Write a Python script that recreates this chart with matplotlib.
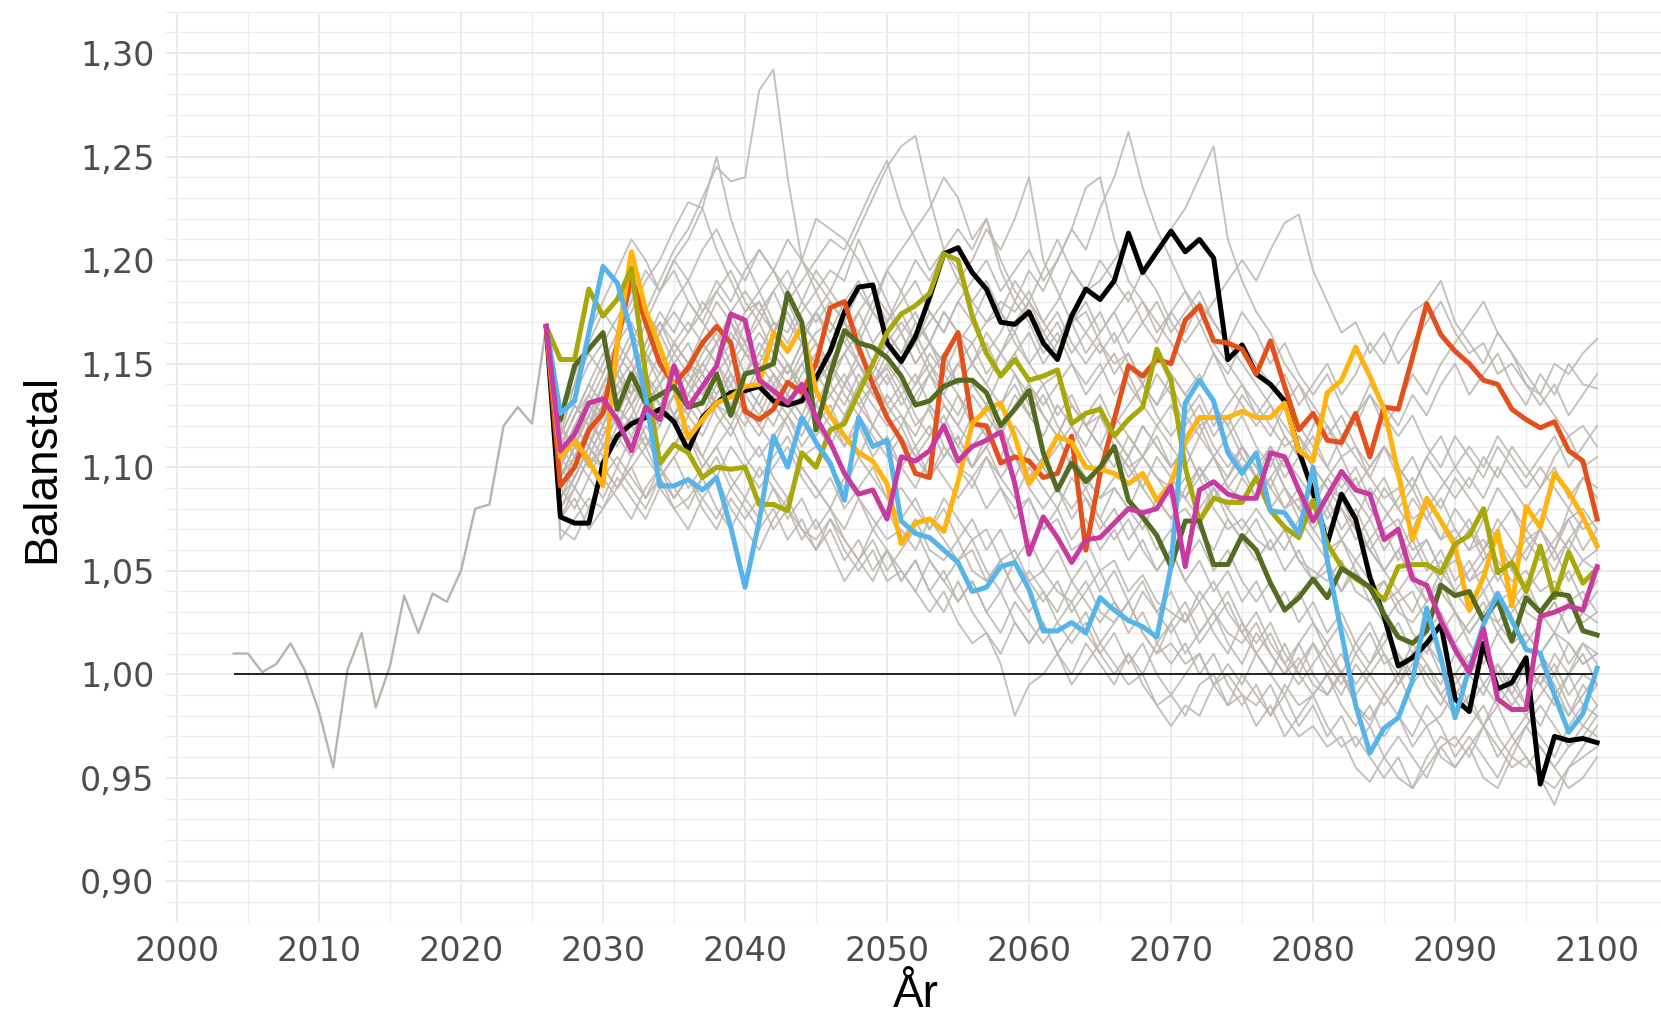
import matplotlib
matplotlib.use("Agg")
import matplotlib.pyplot as plt
import numpy as np

# historical outcome
hist_years = list(range(2004, 2027))
hist_vals = [1.010, 1.010, 1.001, 1.005, 1.015, 1.002, 0.982, 0.955, 1.002, 1.020,
             0.984, 1.004, 1.038, 1.020, 1.039, 1.035, 1.050, 1.080, 1.082, 1.120,
             1.129, 1.121, 1.168]

# projection years
proj_years = list(range(2026, 2101))

# highlighted simulations (balanstal)
sim_black = [1.168, 1.076, 1.073, 1.073, 1.102, 1.115, 1.121, 1.124, 1.128, 1.122,
             1.108, 1.124, 1.131, 1.136, 1.137, 1.139, 1.132, 1.130, 1.132, 1.143,
             1.156, 1.175, 1.187, 1.188, 1.160, 1.151, 1.163, 1.182, 1.203, 1.206,
             1.194, 1.186, 1.170, 1.169, 1.175, 1.160, 1.152, 1.173, 1.186, 1.181,
             1.190, 1.213, 1.194, 1.204, 1.214, 1.204, 1.210, 1.201, 1.152, 1.159,
             1.145, 1.140, 1.132, 1.108, 1.088, 1.063, 1.087, 1.075, 1.047, 1.028,
             1.004, 1.008, 1.015, 1.024, 0.988, 0.982, 1.015, 0.993, 0.996, 1.008,
             0.947, 0.970, 0.968, 0.969, 0.967]
sim_red = [1.168, 1.091, 1.100, 1.118, 1.126, 1.160, 1.192, 1.170, 1.150, 1.140,
           1.148, 1.160, 1.168, 1.160, 1.127, 1.123, 1.128, 1.141, 1.136, 1.150,
           1.177, 1.180, 1.158, 1.140, 1.124, 1.113, 1.097, 1.095, 1.153, 1.165,
           1.121, 1.120, 1.102, 1.105, 1.103, 1.095, 1.097, 1.115, 1.060, 1.097,
           1.123, 1.149, 1.144, 1.152, 1.150, 1.171, 1.178, 1.161, 1.160, 1.157,
           1.145, 1.161, 1.139, 1.118, 1.126, 1.113, 1.112, 1.126, 1.105, 1.129,
           1.128, 1.153, 1.179, 1.164, 1.156, 1.150, 1.142, 1.140, 1.128, 1.123,
           1.119, 1.122, 1.108, 1.103, 1.075]
sim_yellow = [1.168, 1.105, 1.113, 1.103, 1.091, 1.160, 1.204, 1.176, 1.158, 1.139,
              1.114, 1.123, 1.131, 1.134, 1.139, 1.140, 1.165, 1.156, 1.168, 1.137,
              1.125, 1.115, 1.107, 1.103, 1.092, 1.063, 1.073, 1.075, 1.069, 1.093,
              1.121, 1.128, 1.131, 1.115, 1.092, 1.102, 1.115, 1.112, 1.100, 1.099,
              1.097, 1.092, 1.097, 1.084, 1.092, 1.113, 1.124, 1.124, 1.124, 1.127,
              1.124, 1.124, 1.131, 1.108, 1.103, 1.136, 1.142, 1.158, 1.144, 1.128,
              1.097, 1.065, 1.085, 1.074, 1.062, 1.031, 1.047, 1.069, 1.033, 1.081,
              1.071, 1.097, 1.088, 1.076, 1.062]
sim_olive = [1.168, 1.152, 1.152, 1.186, 1.173, 1.181, 1.196, 1.145, 1.102, 1.111,
             1.107, 1.095, 1.100, 1.099, 1.100, 1.082, 1.082, 1.079, 1.107, 1.100,
             1.118, 1.121, 1.136, 1.150, 1.165, 1.174, 1.178, 1.184, 1.203, 1.200,
             1.173, 1.155, 1.144, 1.152, 1.142, 1.144, 1.147, 1.121, 1.126, 1.128,
             1.115, 1.123, 1.129, 1.157, 1.142, 1.100, 1.074, 1.085, 1.083, 1.083,
             1.095, 1.079, 1.071, 1.066, 1.084, 1.063, 1.052, 1.046, 1.042, 1.036,
             1.052, 1.053, 1.053, 1.049, 1.063, 1.067, 1.080, 1.049, 1.054, 1.040,
             1.062, 1.037, 1.059, 1.044, 1.051]
sim_green = [1.168, 1.123, 1.149, 1.157, 1.165, 1.128, 1.145, 1.131, 1.135, 1.139,
             1.129, 1.131, 1.145, 1.125, 1.145, 1.147, 1.150, 1.184, 1.170, 1.118,
             1.145, 1.166, 1.160, 1.158, 1.153, 1.144, 1.130, 1.132, 1.139, 1.142,
             1.142, 1.136, 1.120, 1.128, 1.137, 1.107, 1.089, 1.102, 1.093, 1.100,
             1.110, 1.084, 1.076, 1.067, 1.052, 1.074, 1.074, 1.053, 1.053, 1.067,
             1.060, 1.044, 1.031, 1.037, 1.046, 1.037, 1.051, 1.047, 1.042, 1.029,
             1.018, 1.015, 1.021, 1.043, 1.038, 1.040, 1.026, 1.036, 1.016, 1.037,
             1.030, 1.039, 1.038, 1.021, 1.019]
sim_blue = [1.168, 1.126, 1.132, 1.165, 1.197, 1.189, 1.165, 1.134, 1.091, 1.091,
            1.094, 1.089, 1.095, 1.071, 1.042, 1.074, 1.115, 1.100, 1.124, 1.112,
            1.102, 1.084, 1.124, 1.110, 1.113, 1.074, 1.068, 1.066, 1.060, 1.054,
            1.040, 1.042, 1.052, 1.054, 1.041, 1.021, 1.021, 1.025, 1.020, 1.037,
            1.031, 1.026, 1.023, 1.018, 1.052, 1.131, 1.142, 1.132, 1.107, 1.097,
            1.107, 1.079, 1.078, 1.068, 1.100, 1.055, 1.020, 0.985, 0.962, 0.974,
            0.979, 0.997, 1.032, 1.008, 0.979, 1.003, 1.024, 1.039, 1.026, 1.012,
            1.010, 0.990, 0.972, 0.981, 1.003]
sim_magenta = [1.168, 1.108, 1.116, 1.131, 1.133, 1.123, 1.108, 1.129, 1.123, 1.149,
               1.129, 1.139, 1.149, 1.174, 1.171, 1.142, 1.137, 1.131, 1.140, 1.124,
               1.112, 1.097, 1.087, 1.089, 1.075, 1.105, 1.103, 1.108, 1.120, 1.103,
               1.110, 1.113, 1.117, 1.092, 1.058, 1.076, 1.066, 1.054, 1.065, 1.066,
               1.073, 1.080, 1.078, 1.080, 1.091, 1.052, 1.089, 1.093, 1.087, 1.085,
               1.085, 1.107, 1.105, 1.089, 1.074, 1.086, 1.098, 1.089, 1.087, 1.065,
               1.070, 1.046, 1.043, 1.026, 1.012, 1.001, 1.022, 0.988, 0.983, 0.983,
               1.028, 1.030, 1.033, 1.031, 1.052]

highlight = [sim_black, sim_red, sim_yellow, sim_olive, sim_green, sim_blue, sim_magenta]
highlight_colors = ['#000000', '#e4501c', '#ffb30f', '#a9a80a', '#546b22', '#56b4e9', '#c83aa0']

# other simulations, in thousandths
grey_runs = [
    [1168, 1120, 1135, 1150, 1160, 1172, 1185, 1175, 1190, 1205, 1215, 1230, 1245, 1238, 1240,
     1282, 1292, 1240, 1200, 1185, 1170, 1160, 1150, 1140, 1148, 1135, 1120, 1128, 1110, 1100,
     1095, 1105, 1090, 1080, 1085, 1070, 1075, 1060, 1065, 1050, 1055, 1040, 1048, 1035, 1030,
     1025, 1040, 1030, 1020, 1015, 1025, 1010, 1000, 1008, 995, 990, 1002, 985, 978, 990,
     1000, 985, 975, 980, 992, 985, 975, 990, 1000, 985, 975, 990, 1000, 985, 995],
    [1168, 1095, 1110, 1125, 1140, 1150, 1135, 1160, 1170, 1155, 1165, 1180, 1170, 1160, 1175,
     1185, 1170, 1165, 1180, 1195, 1185, 1200, 1215, 1230, 1245, 1255, 1260, 1230, 1205, 1195,
     1180, 1170, 1175, 1160, 1150, 1140, 1145, 1130, 1120, 1125, 1110, 1100, 1105, 1095, 1090,
     1085, 1095, 1080, 1070, 1075, 1065, 1060, 1070, 1055, 1050, 1045, 1055, 1040, 1035, 1045,
     1030, 1025, 1035, 1040, 1030, 1020, 1030, 1025, 1015, 1020, 1010, 1020, 1015, 1005, 1010],
    [1168, 1080, 1090, 1105, 1100, 1115, 1125, 1110, 1120, 1135, 1125, 1140, 1150, 1135, 1145,
     1160, 1150, 1140, 1155, 1165, 1170, 1160, 1175, 1185, 1170, 1180, 1190, 1175, 1165, 1180,
     1190, 1200, 1185, 1195, 1205, 1190, 1200, 1215, 1205, 1225, 1240, 1262, 1235, 1215, 1200,
     1185, 1175, 1160, 1150, 1140, 1130, 1120, 1110, 1115, 1100, 1090, 1085, 1095, 1080, 1070,
     1075, 1060, 1065, 1050, 1055, 1045, 1050, 1035, 1040, 1030, 1025, 1035, 1020, 1030, 1025],
    [1168, 1100, 1115, 1130, 1120, 1140, 1150, 1135, 1145, 1160, 1150, 1145, 1160, 1170, 1155,
     1150, 1165, 1175, 1160, 1150, 1155, 1165, 1150, 1140, 1155, 1165, 1150, 1160, 1175, 1165,
     1160, 1170, 1180, 1175, 1185, 1170, 1180, 1195, 1185, 1190, 1200, 1210, 1195, 1205, 1215,
     1225, 1240, 1255, 1210, 1190, 1175, 1165, 1150, 1140, 1130, 1120, 1105, 1110, 1095, 1085,
     1090, 1075, 1080, 1065, 1070, 1060, 1065, 1055, 1045, 1050, 1040, 1045, 1035, 1040, 1030],
    [1168, 1110, 1125, 1140, 1155, 1145, 1160, 1175, 1165, 1180, 1190, 1175, 1185, 1195, 1180,
     1170, 1185, 1195, 1180, 1170, 1180, 1170, 1160, 1175, 1165, 1155, 1165, 1150, 1140, 1150,
     1160, 1145, 1155, 1165, 1150, 1160, 1170, 1155, 1165, 1175, 1160, 1170, 1180, 1165, 1175,
     1185, 1170, 1180, 1190, 1200, 1190, 1205, 1218, 1222, 1195, 1180, 1165, 1170, 1155, 1165,
     1150, 1160, 1170, 1180, 1165, 1155, 1160, 1145, 1150, 1140, 1135, 1150, 1145, 1155, 1162],
    [1168, 1065, 1075, 1085, 1080, 1090, 1100, 1085, 1095, 1080, 1085, 1095, 1080, 1070, 1085,
     1075, 1090, 1080, 1070, 1065, 1075, 1060, 1050, 1060, 1045, 1050, 1040, 1030, 1040, 1025,
     1015, 1020, 1005, 980, 995, 1000, 1010, 995, 1005, 1015, 1005, 995, 1000, 985, 990,
     980, 995, 1000, 985, 990, 975, 985, 970, 980, 990, 975, 965, 970, 960, 950,
     960, 945, 955, 965, 970, 960, 975, 965, 955, 960, 950, 945, 955, 960, 965],
    [1168, 1120, 1110, 1125, 1140, 1130, 1145, 1155, 1140, 1150, 1160, 1145, 1135, 1150, 1160,
     1145, 1135, 1150, 1140, 1130, 1145, 1155, 1140, 1150, 1165, 1175, 1160, 1170, 1180, 1190,
     1200, 1215, 1205, 1220, 1240, 1200, 1185, 1170, 1175, 1160, 1150, 1155, 1140, 1130, 1145,
     1135, 1120, 1125, 1110, 1100, 1105, 1090, 1080, 1085, 1070, 1060, 1065, 1050, 1040, 1045,
     1035, 1040, 1025, 1020, 1030, 1015, 1005, 1020, 1010, 1000, 995, 1005, 990, 1000, 995],
    [1168, 1085, 1100, 1115, 1105, 1120, 1130, 1115, 1100, 1110, 1125, 1115, 1130, 1140, 1125,
     1115, 1130, 1120, 1105, 1110, 1100, 1090, 1105, 1095, 1085, 1090, 1080, 1070, 1085, 1075,
     1065, 1070, 1055, 1060, 1045, 1050, 1040, 1035, 1045, 1030, 1025, 1035, 1020, 1010, 1015,
     1005, 1010, 995, 1000, 990, 985, 995, 980, 970, 975, 965, 970, 955, 948, 960,
     950, 945, 960, 970, 965, 975, 985, 970, 960, 975, 985, 975, 965, 970, 980],
    [1168, 1105, 1120, 1135, 1150, 1165, 1175, 1190, 1200, 1215, 1228, 1225, 1205, 1190, 1175,
     1180, 1165, 1155, 1170, 1160, 1150, 1140, 1155, 1145, 1130, 1140, 1125, 1115, 1130, 1120,
     1110, 1120, 1105, 1095, 1110, 1100, 1090, 1105, 1095, 1085, 1090, 1080, 1095, 1085, 1075,
     1080, 1070, 1060, 1075, 1065, 1055, 1065, 1050, 1060, 1045, 1050, 1040, 1055, 1045, 1035,
     1040, 1030, 1045, 1055, 1040, 1050, 1060, 1045, 1055, 1065, 1070, 1060, 1075, 1080, 1070],
    [1168, 1095, 1110, 1130, 1145, 1160, 1150, 1170, 1185, 1200, 1210, 1225, 1250, 1220, 1200,
     1185, 1195, 1180, 1165, 1175, 1160, 1170, 1155, 1145, 1160, 1150, 1140, 1150, 1135, 1125,
     1140, 1130, 1120, 1135, 1125, 1115, 1130, 1120, 1110, 1125, 1115, 1105, 1120, 1110, 1100,
     1110, 1095, 1105, 1090, 1100, 1085, 1095, 1080, 1090, 1075, 1085, 1070, 1080, 1065, 1075,
     1085, 1095, 1080, 1090, 1100, 1110, 1100, 1115, 1105, 1095, 1105, 1115, 1100, 1110, 1120],
    [1168, 1090, 1080, 1095, 1110, 1100, 1115, 1105, 1095, 1105, 1115, 1100, 1110, 1120, 1105,
     1095, 1105, 1115, 1100, 1090, 1080, 1095, 1085, 1070, 1080, 1065, 1075, 1060, 1055, 1065,
     1050, 1045, 1055, 1040, 1030, 1040, 1025, 1015, 1025, 1010, 1000, 1010, 995, 985, 975,
     985, 980, 995, 1005, 995, 1010, 1000, 990, 1005, 1015, 1000, 990, 1005, 995, 985,
     995, 1010, 1000, 990, 1000, 985, 995, 1005, 990, 980, 990, 1000, 985, 975, 985],
    [1168, 1115, 1130, 1120, 1135, 1145, 1130, 1140, 1155, 1145, 1135, 1150, 1160, 1145, 1135,
     1150, 1140, 1130, 1145, 1155, 1140, 1130, 1145, 1135, 1125, 1135, 1145, 1130, 1120, 1135,
     1125, 1115, 1130, 1140, 1125, 1135, 1120, 1110, 1125, 1135, 1120, 1130, 1140, 1125, 1115,
     1125, 1135, 1120, 1130, 1140, 1125, 1135, 1145, 1130, 1140, 1150, 1135, 1145, 1160, 1150,
     1165, 1175, 1180, 1190, 1170, 1160, 1150, 1165, 1155, 1140, 1130, 1140, 1125, 1135, 1145],
    [1168, 1100, 1090, 1105, 1120, 1110, 1125, 1140, 1130, 1120, 1135, 1145, 1130, 1125, 1140,
     1130, 1120, 1135, 1125, 1115, 1125, 1110, 1120, 1105, 1115, 1100, 1090, 1105, 1095, 1085,
     1095, 1080, 1090, 1075, 1085, 1070, 1080, 1065, 1075, 1060, 1070, 1055, 1065, 1050, 1060,
     1045, 1055, 1040, 1050, 1035, 1045, 1030, 1040, 1025, 1035, 1020, 1030, 1015, 1005, 1020,
     1010, 995, 1005, 990, 980, 990, 975, 985, 970, 960, 950, 937, 955, 965, 975],
    [1168, 1110, 1100, 1120, 1135, 1150, 1165, 1155, 1170, 1160, 1150, 1165, 1180, 1170, 1160,
     1175, 1185, 1170, 1160, 1175, 1185, 1175, 1165, 1180, 1195, 1185, 1200, 1190, 1205, 1215,
     1205, 1220, 1200, 1185, 1175, 1165, 1175, 1160, 1150, 1160, 1145, 1155, 1140, 1130, 1140,
     1125, 1115, 1130, 1120, 1105, 1095, 1105, 1090, 1080, 1090, 1075, 1085, 1070, 1060, 1070,
     1055, 1065, 1050, 1060, 1045, 1055, 1040, 1050, 1035, 1045, 1030, 1040, 1050, 1035, 1045],
    [1168, 1070, 1065, 1080, 1095, 1085, 1075, 1090, 1100, 1085, 1095, 1080, 1070, 1085, 1075,
     1085, 1070, 1080, 1065, 1075, 1060, 1045, 1055, 1065, 1050, 1060, 1070, 1055, 1045, 1055,
     1065, 1050, 1040, 1055, 1045, 1035, 1045, 1030, 1040, 1050, 1035, 1025, 1040, 1030, 1020,
     1030, 1015, 1025, 1035, 1020, 1010, 1020, 1005, 995, 1005, 1015, 1000, 990, 1000, 1010,
     995, 1005, 1015, 1000, 990, 1000, 1010, 995, 985, 995, 1005, 995, 980, 990, 1000],
    [1168, 1105, 1095, 1110, 1100, 1115, 1105, 1120, 1110, 1125, 1115, 1105, 1120, 1130, 1115,
     1105, 1115, 1125, 1110, 1120, 1130, 1115, 1105, 1120, 1110, 1100, 1110, 1095, 1105, 1115,
     1100, 1110, 1120, 1105, 1095, 1105, 1115, 1100, 1090, 1100, 1110, 1095, 1105, 1115, 1100,
     1110, 1120, 1105, 1115, 1125, 1110, 1100, 1115, 1105, 1120, 1130, 1115, 1125, 1140, 1130,
     1120, 1135, 1125, 1140, 1150, 1135, 1145, 1155, 1140, 1130, 1145, 1135, 1150, 1140, 1138],
    [1168, 1125, 1140, 1155, 1145, 1160, 1170, 1155, 1145, 1160, 1170, 1160, 1150, 1165, 1155,
     1145, 1160, 1150, 1135, 1145, 1135, 1125, 1140, 1130, 1120, 1125, 1110, 1120, 1105, 1115,
     1100, 1110, 1095, 1105, 1090, 1080, 1090, 1075, 1085, 1070, 1080, 1065, 1075, 1060, 1070,
     1055, 1065, 1050, 1060, 1045, 1035, 1045, 1030, 1040, 1025, 1015, 1025, 1010, 1020, 1005,
     1010, 1000, 1015, 1005, 995, 1005, 1015, 1000, 1010, 1020, 1010, 1000, 1015, 1005, 1010],
    [1168, 1115, 1140, 1165, 1180, 1195, 1210, 1200, 1185, 1195, 1180, 1170, 1185, 1175, 1160,
     1170, 1155, 1145, 1160, 1150, 1140, 1155, 1165, 1150, 1140, 1150, 1160, 1145, 1135, 1150,
     1140, 1130, 1145, 1155, 1140, 1130, 1140, 1150, 1135, 1145, 1155, 1140, 1130, 1145, 1135,
     1120, 1130, 1115, 1125, 1110, 1100, 1110, 1095, 1105, 1090, 1080, 1095, 1085, 1075, 1090,
     1080, 1070, 1085, 1075, 1065, 1075, 1060, 1070, 1080, 1065, 1055, 1065, 1075, 1060, 1070],
    [1168, 1090, 1105, 1095, 1085, 1100, 1090, 1080, 1095, 1105, 1090, 1100, 1110, 1095, 1085,
     1100, 1090, 1075, 1085, 1070, 1080, 1065, 1055, 1070, 1060, 1045, 1055, 1040, 1030, 1045,
     1030, 1020, 1010, 1025, 1015, 1025, 1010, 1020, 1030, 1015, 1025, 1035, 1020, 1010, 1025,
     1035, 1020, 1030, 1040, 1025, 1015, 1025, 1010, 1000, 1015, 1005, 995, 1010, 1000, 990,
     1000, 1010, 995, 985, 1000, 1010, 995, 985, 995, 1005, 995, 985, 1000, 1010, 995],
    [1168, 1100, 1120, 1110, 1130, 1145, 1135, 1150, 1165, 1150, 1140, 1155, 1165, 1150, 1170,
     1180, 1165, 1155, 1170, 1160, 1150, 1165, 1175, 1160, 1170, 1185, 1170, 1160, 1175, 1165,
     1150, 1165, 1155, 1170, 1180, 1165, 1155, 1170, 1180, 1165, 1175, 1185, 1170, 1160, 1175,
     1165, 1180, 1170, 1160, 1150, 1140, 1130, 1120, 1110, 1100, 1090, 1080, 1070, 1060, 1050,
     1060, 1045, 1035, 1050, 1040, 1030, 1040, 1025, 1035, 1020, 1010, 1020, 1005, 1015, 1010],
    [1168, 1105, 1115, 1100, 1110, 1125, 1115, 1130, 1140, 1125, 1135, 1125, 1140, 1130, 1120,
     1135, 1145, 1130, 1120, 1135, 1125, 1140, 1150, 1135, 1145, 1130, 1140, 1155, 1145, 1160,
     1170, 1155, 1165, 1180, 1195, 1185, 1200, 1215, 1235, 1240, 1210, 1190, 1180, 1170, 1160,
     1150, 1140, 1155, 1140, 1130, 1120, 1130, 1115, 1105, 1115, 1100, 1090, 1100, 1085, 1095,
     1080, 1090, 1075, 1085, 1070, 1060, 1075, 1065, 1055, 1070, 1060, 1050, 1065, 1055, 1060],
    [1168, 1080, 1095, 1110, 1100, 1090, 1105, 1115, 1100, 1110, 1120, 1105, 1095, 1110, 1100,
     1090, 1100, 1110, 1095, 1085, 1095, 1080, 1090, 1100, 1085, 1075, 1085, 1070, 1080, 1065,
     1075, 1060, 1070, 1055, 1065, 1050, 1060, 1045, 1055, 1040, 1050, 1035, 1045, 1030, 1040,
     1025, 1035, 1020, 1010, 1025, 1010, 1000, 1015, 1000, 990, 1000, 985, 975, 985, 970,
     980, 965, 975, 960, 955, 965, 975, 960, 970, 980, 970, 960, 975, 985, 980],
    [1168, 1110, 1125, 1140, 1130, 1145, 1160, 1150, 1165, 1175, 1165, 1175, 1190, 1180, 1195,
     1205, 1195, 1210, 1200, 1220, 1215, 1210, 1200, 1185, 1175, 1165, 1175, 1160, 1150, 1165,
     1150, 1140, 1155, 1145, 1130, 1140, 1125, 1135, 1120, 1130, 1115, 1105, 1120, 1110, 1100,
     1110, 1095, 1105, 1090, 1085, 1095, 1080, 1090, 1075, 1085, 1070, 1080, 1065, 1075, 1060,
     1070, 1055, 1065, 1050, 1060, 1045, 1055, 1065, 1050, 1060, 1070, 1055, 1065, 1075, 1060],
    [1168, 1095, 1105, 1120, 1115, 1130, 1120, 1135, 1125, 1140, 1130, 1120, 1135, 1145, 1130,
     1120, 1135, 1125, 1115, 1130, 1120, 1110, 1125, 1115, 1105, 1115, 1105, 1095, 1110, 1100,
     1090, 1105, 1095, 1085, 1100, 1090, 1080, 1095, 1085, 1075, 1090, 1080, 1070, 1085, 1075,
     1090, 1100, 1085, 1095, 1105, 1095, 1110, 1100, 1115, 1105, 1120, 1110, 1125, 1135, 1120,
     1130, 1145, 1135, 1150, 1160, 1170, 1180, 1165, 1155, 1145, 1135, 1125, 1115, 1120, 1110],
    [1168, 1075, 1090, 1080, 1095, 1105, 1095, 1085, 1100, 1090, 1080, 1095, 1105, 1090, 1100,
     1110, 1095, 1085, 1100, 1090, 1080, 1070, 1085, 1075, 1065, 1070, 1060, 1075, 1065, 1055,
     1060, 1045, 1055, 1040, 1050, 1040, 1030, 1045, 1035, 1025, 1035, 1020, 1030, 1015, 1005,
     1015, 1000, 1010, 995, 985, 995, 980, 990, 975, 985, 970, 980, 965, 975, 960,
     970, 960, 950, 965, 955, 965, 950, 945, 960, 955, 965, 955, 945, 950, 960],
    [1168, 1100, 1115, 1105, 1120, 1135, 1145, 1130, 1140, 1155, 1145, 1160, 1150, 1140, 1155,
     1165, 1155, 1145, 1160, 1175, 1165, 1180, 1190, 1175, 1195, 1205, 1215, 1225, 1240, 1230,
     1210, 1220, 1195, 1180, 1170, 1155, 1165, 1150, 1140, 1150, 1135, 1145, 1130, 1120, 1130,
     1115, 1125, 1110, 1100, 1110, 1095, 1105, 1090, 1080, 1070, 1080, 1065, 1055, 1065, 1050,
     1040, 1050, 1035, 1045, 1030, 1020, 1030, 1040, 1025, 1015, 1025, 1035, 1020, 1030, 1040],
    [1168, 1120, 1105, 1115, 1130, 1120, 1110, 1125, 1135, 1120, 1130, 1140, 1125, 1115, 1130,
     1120, 1110, 1125, 1135, 1120, 1110, 1125, 1135, 1120, 1110, 1120, 1105, 1115, 1125, 1110,
     1100, 1115, 1105, 1095, 1110, 1100, 1090, 1105, 1095, 1085, 1095, 1105, 1090, 1080, 1095,
     1085, 1075, 1090, 1080, 1070, 1080, 1070, 1060, 1075, 1065, 1055, 1065, 1075, 1060, 1050,
     1060, 1070, 1055, 1045, 1060, 1070, 1055, 1065, 1050, 1040, 1050, 1060, 1045, 1055, 1050],
    [1168, 1115, 1130, 1120, 1140, 1155, 1145, 1160, 1175, 1165, 1180, 1170, 1160, 1175, 1185,
     1175, 1165, 1180, 1190, 1200, 1210, 1205, 1220, 1235, 1248, 1225, 1210, 1195, 1205, 1190,
     1180, 1190, 1175, 1165, 1180, 1170, 1160, 1175, 1165, 1155, 1165, 1150, 1140, 1155, 1145,
     1135, 1145, 1130, 1120, 1135, 1125, 1115, 1130, 1120, 1110, 1100, 1115, 1105, 1095, 1110,
     1100, 1090, 1105, 1095, 1085, 1095, 1085, 1100, 1090, 1080, 1090, 1100, 1085, 1095, 1090],
    [1168, 1125, 1145, 1160, 1175, 1165, 1180, 1195, 1185, 1200, 1190, 1205, 1215, 1200, 1190,
     1205, 1195, 1185, 1200, 1190, 1180, 1170, 1185, 1175, 1165, 1155, 1170, 1160, 1150, 1140,
     1150, 1140, 1130, 1145, 1135, 1125, 1115, 1130, 1120, 1110, 1100, 1115, 1105, 1095, 1085,
     1095, 1080, 1090, 1075, 1065, 1075, 1060, 1070, 1055, 1045, 1055, 1040, 1050, 1035, 1025,
     1035, 1020, 1010, 1025, 1015, 1005, 1015, 1000, 990, 1005, 995, 1010, 1000, 1015, 1005],
    [1168, 1075, 1085, 1070, 1080, 1095, 1085, 1075, 1090, 1080, 1070, 1085, 1095, 1080, 1070,
     1060, 1075, 1085, 1070, 1060, 1075, 1065, 1055, 1045, 1060, 1050, 1040, 1055, 1045, 1035,
     1045, 1030, 1020, 1035, 1025, 1015, 1025, 1035, 1020, 1010, 1020, 1005, 1015, 1000, 990,
     1000, 1010, 995, 985, 1000, 990, 980, 995, 985, 990, 1000, 1010, 995, 1005, 1015,
     1025, 1010, 1020, 1030, 1015, 1025, 1035, 1020, 1030, 1040, 1030, 1020, 1035, 1025, 1030],
    [1168, 1110, 1125, 1135, 1125, 1135, 1145, 1130, 1140, 1150, 1140, 1130, 1145, 1155, 1140,
     1130, 1145, 1135, 1125, 1140, 1150, 1135, 1125, 1140, 1130, 1120, 1135, 1145, 1130, 1120,
     1135, 1125, 1115, 1130, 1140, 1125, 1115, 1130, 1120, 1110, 1125, 1115, 1105, 1120, 1110,
     1100, 1115, 1105, 1095, 1110, 1100, 1090, 1105, 1095, 1085, 1095, 1085, 1075, 1090, 1080,
     1070, 1085, 1075, 1065, 1080, 1070, 1060, 1075, 1065, 1055, 1070, 1060, 1080, 1070, 1075],
    [1168, 1100, 1115, 1125, 1110, 1125, 1140, 1130, 1120, 1135, 1145, 1135, 1150, 1160, 1145,
     1155, 1170, 1160, 1175, 1185, 1195, 1190, 1210, 1195, 1180, 1165, 1150, 1160, 1145, 1135,
     1120, 1130, 1115, 1105, 1095, 1105, 1090, 1080, 1090, 1075, 1065, 1075, 1060, 1050, 1060,
     1045, 1035, 1045, 1030, 1020, 1030, 1015, 1005, 1015, 1000, 990, 1000, 985, 975, 990,
     980, 970, 985, 975, 960, 970, 960, 950, 965, 975, 965, 955, 965, 975, 970],
    [1168, 1095, 1110, 1100, 1115, 1130, 1120, 1110, 1125, 1135, 1125, 1140, 1130, 1120, 1135,
     1145, 1130, 1140, 1150, 1135, 1125, 1140, 1130, 1120, 1135, 1125, 1115, 1130, 1120, 1110,
     1125, 1115, 1105, 1120, 1110, 1100, 1110, 1120, 1105, 1095, 1110, 1100, 1090, 1105, 1095,
     1085, 1100, 1090, 1080, 1095, 1085, 1095, 1105, 1090, 1080, 1095, 1105, 1090, 1100, 1110,
     1100, 1090, 1105, 1115, 1100, 1090, 1105, 1095, 1110, 1100, 1090, 1105, 1115, 1100, 1105],
    [1168, 1105, 1120, 1110, 1125, 1140, 1130, 1145, 1135, 1125, 1140, 1150, 1140, 1130, 1145,
     1155, 1145, 1135, 1150, 1160, 1145, 1155, 1165, 1150, 1160, 1170, 1160, 1175, 1165, 1180,
     1170, 1185, 1175, 1190, 1180, 1195, 1210, 1195, 1185, 1200, 1190, 1180, 1195, 1185, 1170,
     1160, 1170, 1155, 1145, 1160, 1150, 1140, 1130, 1140, 1125, 1115, 1125, 1110, 1100, 1110,
     1095, 1105, 1090, 1080, 1095, 1085, 1075, 1090, 1080, 1070, 1080, 1070, 1060, 1075, 1065],
    [1168, 1085, 1095, 1110, 1100, 1090, 1100, 1110, 1095, 1085, 1095, 1085, 1075, 1090, 1080,
     1070, 1080, 1065, 1075, 1060, 1070, 1055, 1065, 1050, 1060, 1045, 1055, 1040, 1050, 1035,
     1045, 1030, 1040, 1025, 1015, 1025, 1010, 1000, 1015, 1005, 995, 1010, 1000, 1015, 1025,
     1010, 1020, 1030, 1015, 1005, 1020, 1010, 1000, 1015, 1025, 1010, 1000, 1015, 1025, 1010,
     1000, 1015, 1005, 995, 1010, 1000, 990, 1005, 995, 985, 1000, 990, 980, 995, 985],
    [1168, 1115, 1105, 1120, 1130, 1120, 1135, 1145, 1130, 1140, 1150, 1140, 1130, 1145, 1135,
     1125, 1140, 1150, 1135, 1125, 1135, 1145, 1130, 1140, 1150, 1140, 1130, 1145, 1155, 1140,
     1150, 1160, 1145, 1155, 1165, 1150, 1160, 1170, 1155, 1165, 1175, 1160, 1170, 1180, 1165,
     1175, 1185, 1170, 1160, 1175, 1165, 1150, 1160, 1145, 1135, 1145, 1130, 1120, 1135, 1125,
     1115, 1125, 1110, 1100, 1115, 1105, 1095, 1110, 1100, 1090, 1100, 1090, 1080, 1095, 1085],
]

y_ticks = [0.90, 0.95, 1.00, 1.05, 1.10, 1.15, 1.20, 1.25, 1.30]
y_ticklabels = ['0,90', '0,95', '1,00', '1,05', '1,10', '1,15', '1,20', '1,25', '1,30']
x_ticks = list(range(2000, 2101, 10))

fig = plt.figure(figsize=(16.61, 10.19), dpi=100)
ax = fig.add_axes([0.0997, 0.0944, 0.9003, 0.8942])

grey = '#bdb7b1'
for run in grey_runs:
    ax.plot(proj_years, np.array(run) / 1000, color=grey, lw=1.3, alpha=0.9, zorder=2)
ax.plot(hist_years, hist_vals, color='#b9b3ad', lw=1.7, zorder=2)

ax.hlines(1.0, 2004, 2100, color='black', lw=1.2, zorder=3)

for vals, col in zip(highlight, highlight_colors):
    ax.plot(proj_years, vals, color=col, lw=3.6, zorder=4)

ax.set_xlim(1999.2, 2104.5)
ax.set_ylim(0.88, 1.32)
ax.set_xticks(x_ticks)
ax.set_xticks(list(range(2005, 2101, 10)), minor=True)
ax.set_yticks(y_ticks)
ax.set_yticklabels(y_ticklabels)
ax.set_yticks([v / 100 for v in range(88, 133) if v % 5 != 0], minor=True)

ax.grid(which='major', color='#e8e8e8', lw=1.2)
ax.grid(which='minor', color='#ededed', lw=0.9)
ax.set_axisbelow(True)
for sp in ax.spines.values():
    sp.set_visible(False)
ax.tick_params(which='both', length=0, labelsize=24, labelcolor='#4d4d4d')
ax.tick_params(axis='y', pad=8)
ax.tick_params(axis='x', pad=9)

label_font = ['Liberation Sans', 'DejaVu Sans']
fig.text(0.0253, 0.5407, 'Balanstal', rotation=90, ha='center', va='center',
         fontsize=33, family=label_font)
fig.text(0.5515, 0.002, 'År', ha='center', va='bottom', fontsize=33, family=label_font)

fig.savefig('out.png', dpi=100)
